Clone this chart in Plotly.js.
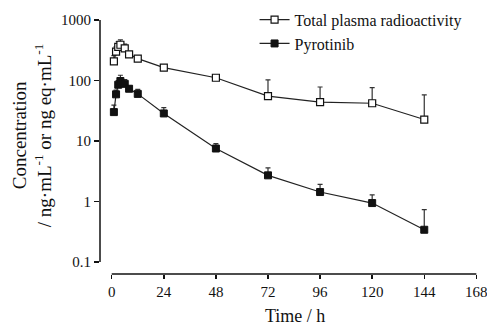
<!DOCTYPE html>
<html>
<head>
<meta charset="utf-8">
<script src="https://cdn.plot.ly/plotly-3.0.1.min.js"></script>
<style>html,body{margin:0;padding:0;background:#fff;}#chart{width:487px;height:326px;}</style>
</head>
<body>
<div id="chart"></div>
<script>
var timeH = [1, 2, 3, 4, 6, 8, 12, 24, 48, 72, 96, 120, 144];
var totalRadio = [207, 300, 360, 390, 340, 271, 230, 163, 111, 55, 44, 42, 22.6];
var totalRadioErr = [50, 60, 80, 80, 60, 20, 15, 10, 10, 47, 34, 34, 35];
var pyrotinib = [30, 59, 85, 98, 88, 73, 60, 28.5, 7.5, 2.7, 1.43, 0.94, 0.34];
var pyrotinibErr = [9, 10, 15, 24, 15, 8, 11, 7, 1.5, 0.9, 0.48, 0.34, 0.39];
var xTicks = [0, 24, 48, 72, 96, 120, 144, 168];
var yTicks = [0.1, 1, 10, 100, 1000];
var yTickText = ['0.1', '1', '10', '100', '1000'];

var zeros = timeH.map(function(){return 0;});
var font = 'Liberation Serif';
var lineCol = '#222';

var traces = [
  {
    x: timeH, y: totalRadio, name: 'Total plasma radioactivity', type: 'scatter', mode: 'lines+markers',
    line: {color: lineCol, width: 1.2},
    marker: {symbol: 'square', size: 7, color: '#fff', line: {color: '#111', width: 1.2}},
    error_y: {type: 'data', symmetric: false, array: totalRadioErr, arrayminus: zeros, color: '#333', thickness: 1.2, width: 2.5},
    cliponaxis: false
  },
  {
    x: timeH, y: pyrotinib, name: 'Pyrotinib', type: 'scatter', mode: 'lines+markers',
    line: {color: lineCol, width: 1.2},
    marker: {symbol: 'square', size: 7, color: '#111', line: {color: '#111', width: 1}},
    error_y: {type: 'data', symmetric: false, array: pyrotinibErr, arrayminus: zeros, color: '#333', thickness: 1.2, width: 2.5},
    cliponaxis: false
  }
];

var layout = {
  width: 487, height: 326,
  margin: {l: 100, r: 10, t: 0, b: 52},
  paper_bgcolor: '#fff', plot_bgcolor: '#fff',
  font: {family: font, size: 15, color: '#111'},
  showlegend: true,
  legend: {x: 0.41, y: 0.99, xanchor: 'left', yanchor: 'top', bgcolor: 'rgba(0,0,0,0)', font: {family: font, size: 16, color: '#111'}, itemwidth: 30},
  xaxis: {
    range: [-5.4, 168.3], tickvals: xTicks, ticktext: xTicks.map(String),
    showgrid: false, zeroline: false, showline: false,
    ticks: 'outside', ticklen: 4, tickwidth: 1.5, tickcolor: '#111',
    ticklabeloverflow: 'allow',
    tickfont: {family: font, size: 15, color: '#111'},
    title: {text: ''}
  },
  yaxis: {
    type: 'log', range: [-1.2, 3.0], domain: [0, 0.927], tickvals: yTicks, ticktext: yTickText,
    showgrid: false, zeroline: false, showline: false,
    ticks: 'outside', ticklen: 5, tickwidth: 1.5, tickcolor: '#111',
    tickfont: {family: font, size: 15, color: '#111'},
    title: {text: ''}
  },
  annotations: [
    {text: 'Time / h', xref: 'paper', yref: 'paper', x: 0.517, y: -0.153, xanchor: 'center', yanchor: 'middle',
     showarrow: false, font: {family: font, size: 18, color: '#111'}},
    {text: 'Concentration<br>/ ng·mL<sup>-1</sup> or ng eq·mL<sup>-1</sup>', xref: 'paper', yref: 'paper',
     x: -0.18, y: 0.507, xanchor: 'center', yanchor: 'middle', textangle: -90,
     showarrow: false, font: {family: font, size: 19, color: '#111'}}
  ],
  shapes: [
    {type: 'line', xref: 'paper', yref: 'y', x0: 0, x1: 0, y0: 0.1, y1: 1000, line: {color: '#111', width: 1.5}},
    {type: 'line', xref: 'x', yref: 'paper', x0: 0, x1: 168, y0: 0, y1: 0, line: {color: '#111', width: 1.5}}
  ]
};

Plotly.newPlot('chart', traces, layout, {displayModeBar: false, staticPlot: true});
</script>
</body>
</html>
